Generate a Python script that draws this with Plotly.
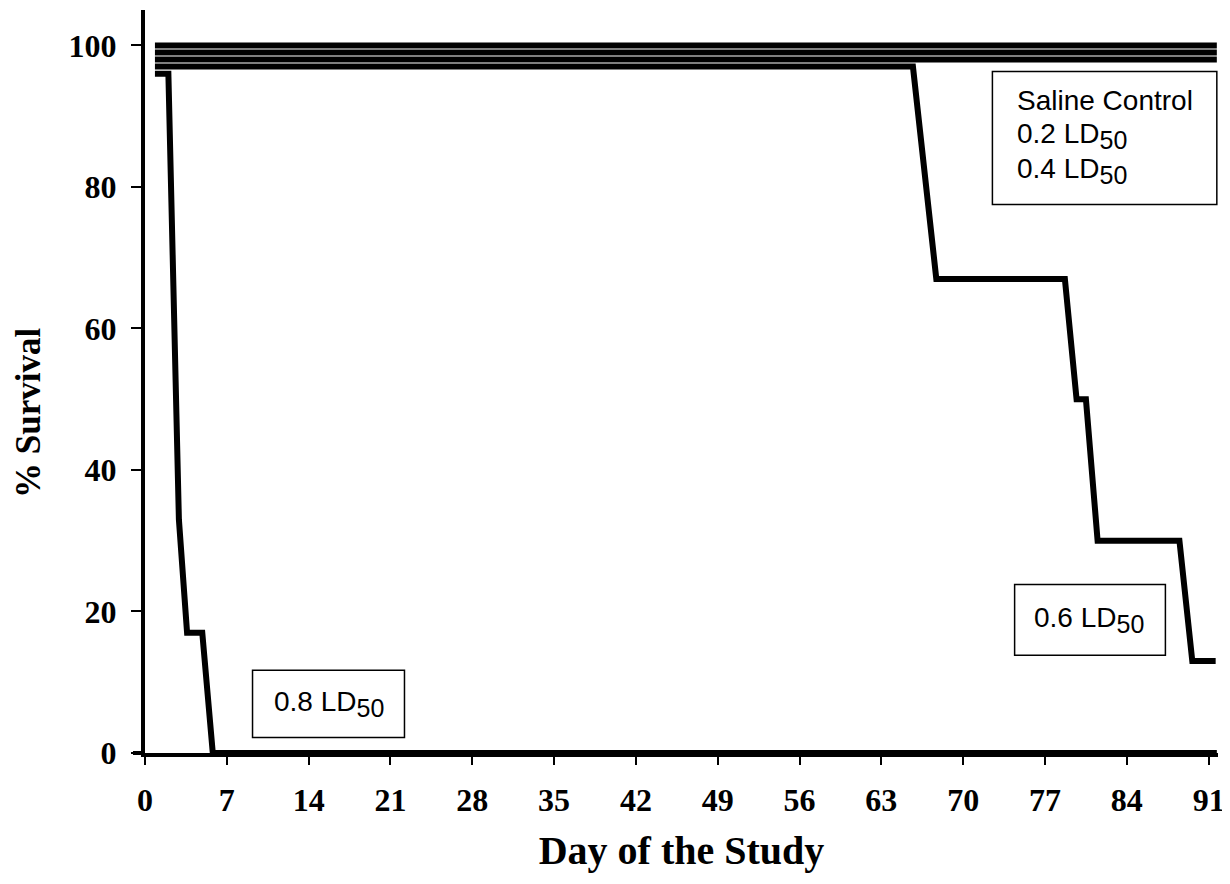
import plotly.graph_objects as go

# ---- data ----
days_saline = [0.85, 91.7]
surv_saline = [100, 100]
days_02 = [0.85, 91.7]
surv_02 = [99, 99]
days_04 = [0.85, 91.7]
surv_04 = [98, 98]
days_06 = [0.85, 65.7, 67.7, 78.7, 79.7, 80.5, 81.5, 88.5, 89.6, 91.6]
surv_06 = [97, 97, 67, 67, 50, 50, 30, 30, 13, 13]
days_08 = [0.85, 2.0, 2.9, 3.6, 4.9, 5.8, 91.7]
surv_08 = [96, 96, 33, 17, 17, 0, 0]

x_ticks = list(range(0, 92, 7))
y_ticks = [0, 20, 40, 60, 80, 100]

series = [
    ("Saline Control", days_saline, surv_saline),
    ("0.2 LD50", days_02, surv_02),
    ("0.4 LD50", days_04, surv_04),
    ("0.6 LD50", days_06, surv_06),
    ("0.8 LD50", days_08, surv_08),
]

SERIF = "Liberation Serif"
SANS = "Liberation Sans"

fig = go.Figure()
for name, d, s in series:
    fig.add_trace(go.Scatter(x=d, y=s, mode="lines", name=name,
                             line=dict(color="black", width=6),
                             showlegend=False))

# the page body adds an 8px offset, so the figure is sized to fit the window
W, H = 1222, 876
ml, mr, mt, mb = 137, 12, 2, 131
pw = W - ml - mr
ph = H - mt - mb

fig.update_layout(
    width=W, height=H,
    margin=dict(l=ml, r=mr, t=mt, b=mb, autoexpand=False),
    paper_bgcolor="white", plot_bgcolor="white",
    xaxis=dict(
        range=[0, 91.8], tickvals=x_ticks, ticktext=[str(v) for v in x_ticks],
        automargin=False,
        showgrid=False, zeroline=False,
        showline=True, linecolor="black", linewidth=4,
        ticks="outside", ticklen=8, tickwidth=2, tickcolor="black",
        ticklabelstandoff=8,
        tickfont=dict(family=SERIF, size=32, color="black", weight="bold"),
        title=dict(text="Day of the Study", standoff=20,
                   font=dict(family=SERIF, size=40, color="black", weight="bold")),
    ),
    yaxis=dict(
        range=[0, 105], tickvals=y_ticks, ticktext=[str(v) for v in y_ticks],
        automargin=False,
        showgrid=False, zeroline=False,
        showline=True, linecolor="black", linewidth=4,
        ticks="outside", ticklen=10, tickwidth=2, tickcolor="black",
        ticklabelstandoff=8,
        tickfont=dict(family=SERIF, size=32, color="black", weight="bold"),
    ),
)

# y axis title, placed where the reference shows it
fig.add_annotation(x=-117 / pw, y=(H - mb - 405) / ph, xref="paper", yref="paper",
                   text="% Survival", textangle=-90, showarrow=False,
                   xanchor="center", yanchor="middle",
                   font=dict(family=SERIF, size=35, color="black", weight="bold"))

# extension of the x axis line left of the y axis
fig.add_shape(type="line", xref="paper", yref="paper", x0=-12 / pw, x1=0, y0=0, y1=0,
              line=dict(color="black", width=4))

# legend boxes
box_line = dict(color="black", width=1.5)
fig.add_shape(type="rect", xref="x", yref="y", x0=72.5, x1=91.7, y0=77.5, y1=96.3, line=box_line)
fig.add_shape(type="rect", xref="x", yref="y", x0=74.4, x1=87.3, y0=13.8, y1=23.8, line=box_line)
fig.add_shape(type="rect", xref="x", yref="y", x0=9.2, x1=22.2, y0=2.2, y1=11.7, line=box_line)

SUB = "LD<sub><span style='font-size:25px'>50</span></sub>"
lab_font = dict(family=SANS, size=28, color="black")
for txt, yv in [("Saline Control", 92.2), ("0.2 " + SUB, 87.2), ("0.4 " + SUB, 82.3)]:
    fig.add_annotation(x=74.4, y=yv, xref="x", yref="y", text=txt, showarrow=False,
                       xanchor="left", yanchor="middle", font=lab_font)
fig.add_annotation(x=80.8, y=18.8, xref="x", yref="y", text="0.6 " + SUB, showarrow=False,
                   xanchor="center", yanchor="middle", font=lab_font)
fig.add_annotation(x=15.7, y=6.9, xref="x", yref="y", text="0.8 " + SUB, showarrow=False,
                   xanchor="center", yanchor="middle", font=lab_font)

fig.write_html("out.html")
